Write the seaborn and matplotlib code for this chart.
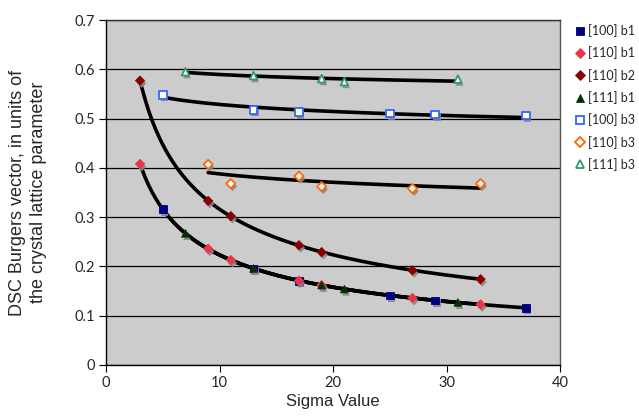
import numpy as np
import pandas as pd
import seaborn as sns
import matplotlib.pyplot as plt
import matplotlib.patheffects as pe

# Sigma values and DSC Burgers vector magnitudes
sig_100_b1 = [5, 13, 17, 25, 29, 37]
val_100_b1 = [0.316, 0.196, 0.171, 0.141, 0.131, 0.116]
sig_110_b1 = [3, 9, 11, 17, 19, 27, 33]
val_110_b1 = [0.408, 0.236, 0.213, 0.171, 0.162, 0.136, 0.123]
sig_110_b2 = [3, 9, 11, 17, 19, 27, 33]
val_110_b2 = [0.577, 0.333, 0.302, 0.243, 0.229, 0.192, 0.174]
sig_111_b1 = [7, 13, 19, 21, 31]
val_111_b1 = [0.267, 0.196, 0.162, 0.154, 0.127]
sig_100_b3 = [5, 13, 17, 25, 29, 37]
val_100_b3 = [0.548, 0.518, 0.513, 0.510, 0.508, 0.506]
sig_110_b3 = [9, 11, 17, 19, 27, 33]
val_110_b3 = [0.407, 0.368, 0.383, 0.362, 0.358, 0.368]
sig_111_b3 = [7, 13, 19, 21, 31]
val_111_b3 = [0.595, 0.587, 0.581, 0.575, 0.580]

series = [
    ('[100] b1', sig_100_b1, val_100_b1, 's', '#000080', True),
    ('[110] b1', sig_110_b1, val_110_b1, 'D', '#ee3344', True),
    ('[110] b2', sig_110_b2, val_110_b2, 'D', '#880000', True),
    ('[111] b1', sig_111_b1, val_111_b1, '^', '#003300', True),
    ('[100] b3', sig_100_b3, val_100_b3, 's', '#3366ff', False),
    ('[110] b3', sig_110_b3, val_110_b3, 'D', '#ff6600', False),
    ('[111] b3', sig_111_b3, val_111_b3, '^', '#339966', False),
]

sns.set_style('white')
plt.rcParams['font.family'] = ['Lato', 'DejaVu Sans']

fig = plt.figure(figsize=(6.39, 4.18), dpi=100)
ax = fig.add_axes([106 / 639, 53 / 418, 454 / 639, 345 / 418])
ax.set_facecolor('#cccccc')

shadow = [pe.SimplePatchShadow(offset=(1.2, -2.0), shadow_rgbFace='#888888', alpha=0.9), pe.Normal()]

# power-law trendlines (fitted in log space)
for name, s, v, m, c, filled in series:
    k, b = np.polyfit(np.log(s), np.log(v), 1)
    xs = np.linspace(min(s), max(s), 200)
    fit = pd.DataFrame({'x': xs, 'y': np.exp(b) * xs ** k})
    sns.lineplot(data=fit, x='x', y='y', color='black', lw=2.6, ax=ax, zorder=3)

handles = []
for name, s, v, m, c, filled in series:
    df = pd.DataFrame({'sigma': s, 'b': v})
    size = 30 if m != 'D' else 22
    sns.scatterplot(data=df, x='sigma', y='b', marker=m, s=size,
                    facecolor=c if filled else 'white', edgecolor=c,
                    linewidth=0.6 if filled else 1.3, ax=ax, zorder=4,
                    path_effects=shadow)
    handles.append(plt.Line2D([], [], ls='', marker=m, markersize=6 if m != 'D' else 5,
                              markerfacecolor=c if filled else 'white',
                              markeredgecolor=c, markeredgewidth=0.6 if filled else 1.3,
                              label=name))

ax.set_xlim(0, 40)
ax.set_ylim(0, 0.7)
ax.set_xticks([0, 10, 20, 30, 40])
ax.set_yticks(np.arange(0, 0.71, 0.1))
ax.set_yticklabels(['0', '0.1', '0.2', '0.3', '0.4', '0.5', '0.6', '0.7'])
ax.yaxis.grid(True, color='black', lw=0.9)
ax.set_axisbelow(True)
ax.tick_params(axis='both', direction='out', length=5, width=0.8, labelsize=10.5,
               left=True, bottom=True, color='black', pad=3)
for sp in ax.spines.values():
    sp.set_color('#555555')
    sp.set_linewidth(1.0)
ax.spines['left'].set_color('black')
ax.spines['bottom'].set_color('black')
ax.spines['top'].set_color('#333333')

lab_font = ['Liberation Sans', 'DejaVu Sans']
ax.set_xlabel('Sigma Value', fontsize=12, family=lab_font)
ax.set_ylabel('DSC Burgers vector, in units of\nthe crystal lattice parameter', fontsize=13,
              linespacing=1.3, family=lab_font)
ax.yaxis.set_label_coords(-0.13, 0.5)
ax.xaxis.set_label_coords(0.5, -0.085)

ax.legend(handles=handles, loc='upper left', bbox_to_anchor=(1.01, 1.01), frameon=False,
          fontsize=9, handletextpad=0.1, labelspacing=0.75, handlelength=1.2,
          borderaxespad=0.2)

fig.savefig('out.png', dpi=100)
